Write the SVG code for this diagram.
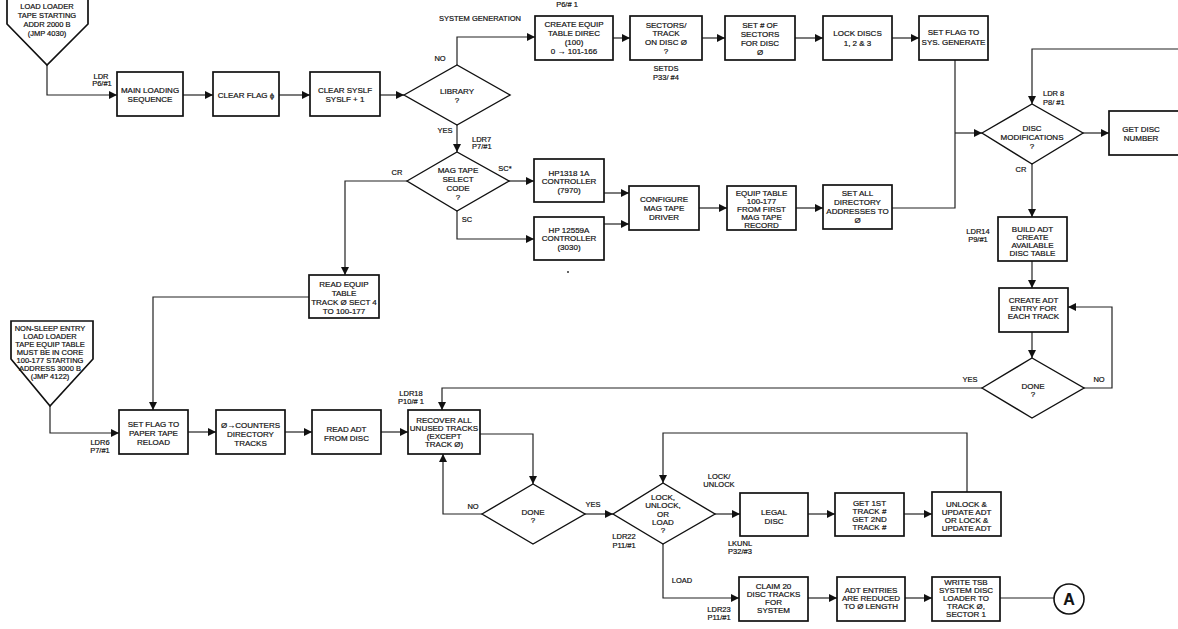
<svg xmlns="http://www.w3.org/2000/svg" width="1178" height="629" viewBox="0 0 1178 629">
<defs>
<marker id="ah" markerUnits="userSpaceOnUse" markerWidth="9" markerHeight="8" refX="8" refY="4" orient="auto">
<path d="M0,0 L8,4 L0,8 z" fill="#111"/>
</marker>
<style>
.bx{fill:#fff;stroke:#111;stroke-width:1.7}
.dm{fill:#fff;stroke:#111;stroke-width:1.4}
.c{fill:none;stroke:#222;stroke-width:1.2}
.a{fill:none;stroke:#222;stroke-width:1.2;marker-end:url(#ah)}
text{font-family:"Liberation Sans",Arial,sans-serif;font-size:8px;fill:#111;stroke:#111;stroke-width:0.2;text-anchor:middle}
.l{font-size:7.5px}
.s{text-anchor:start}
.p{font-size:7.5px}
</style>
</defs>
<rect width="1178" height="629" fill="#fff"/>

<g id="connectors">
<path class="a" d="M47,65 V95 H117"/>
<path class="a" d="M183,95 H213"/>
<path class="a" d="M279,95 H310"/>
<path class="a" d="M380,95 H404"/>
<path class="a" d="M457,65 V37 H535"/>
<path class="a" d="M613,38 H630"/>
<path class="a" d="M702,38 H725"/>
<path class="a" d="M795,38 H823"/>
<path class="a" d="M892,38 H919"/>
<path class="c" d="M955,60 V208 H892"/>
<path class="a" d="M955,133 H982"/>
<path class="a" d="M1180,49 H1032 V104"/>
<path class="a" d="M1083,133 H1109"/>
<path class="a" d="M1032,164 V217"/>
<path class="a" d="M1032,261 V288"/>
<path class="a" d="M1032,332 V358"/>
<path class="a" d="M1084,388 H1112 V307 H1068"/>
<path class="a" d="M982,388 H442 V410"/>
<path class="a" d="M457,125 V152"/>
<path class="a" d="M407,181 H345 V275"/>
<path class="a" d="M509,181 H534"/>
<path class="a" d="M457,211 V239 H534"/>
<path class="a" d="M604,193 H629"/>
<path class="a" d="M604,224 H629"/>
<path class="a" d="M699,208 H727"/>
<path class="a" d="M796,208 H823"/>
<path class="a" d="M309,297 H153 V410"/>
<path class="a" d="M50,406 V433 H119"/>
<path class="a" d="M188,432 H216"/>
<path class="a" d="M285,432 H312"/>
<path class="a" d="M381,432 H408"/>
<path class="a" d="M480,434 H533 V484"/>
<path class="a" d="M482,514 H443 V454"/>
<path class="a" d="M585,514 H613"/>
<path class="a" d="M715,514 H740"/>
<path class="a" d="M808,514 H835"/>
<path class="a" d="M904,514 H932"/>
<path class="a" d="M967,492 V433 H663 V483"/>
<path class="a" d="M663,544 V598 H739"/>
<path class="a" d="M808,598 H837"/>
<path class="a" d="M905,598 H932"/>
<path class="c" d="M1000,598 H1054"/>
</g>

<g id="labels">
<text class="l" x="101" y="79">LDR</text>
<text class="l" x="102" y="86">P6/#1</text>
<text class="l" x="480" y="21">SYSTEM GENERATION</text>
<text class="l" x="567" y="7">P6/# 1</text>
<text class="l" x="440" y="61">NO</text>
<text class="l" x="666" y="71">SETDS</text>
<text class="l" x="666" y="80">P33/ #4</text>
<text class="l s" x="1043" y="96">LDR 8</text>
<text class="l s" x="1043" y="105">P8/ #1</text>
<text class="l" x="1021" y="172">CR</text>
<text class="l" x="445" y="133">YES</text>
<text class="l s" x="472" y="142">LDR7</text>
<text class="l s" x="472" y="149">P7/#1</text>
<text class="l" x="397" y="175">CR</text>
<text class="l" x="505" y="171">SC*</text>
<text class="l" x="467" y="222">SC</text>
<text class="l" x="978" y="234">LDR14</text>
<text class="l" x="978" y="242">P9/#1</text>
<text class="l" x="970" y="382">YES</text>
<text class="l" x="1099" y="382">NO</text>
<text class="l" x="411" y="396">LDR18</text>
<text class="l" x="411" y="404">P10/# 1</text>
<text class="l" x="473" y="509">NO</text>
<text class="l" x="593" y="507">YES</text>
<text class="l" x="719" y="479">LOCK/</text>
<text class="l" x="719" y="487">UNLOCK</text>
<text class="l" x="740" y="546">LKUNL</text>
<text class="l" x="740" y="554">P32/#3</text>
<text class="l" x="624" y="539">LDR22</text>
<text class="l" x="624" y="548">P11/#1</text>
<text class="l" x="682" y="583">LOAD</text>
<text class="l" x="719" y="612">LDR23</text>
<text class="l" x="719" y="620">P11/#1</text>
<text class="l" x="100" y="445">LDR6</text>
<text class="l" x="100" y="453">P7/#1</text>
<circle cx="568" cy="272" r="1" fill="#333"/>
</g>

<g id="entry1">
<polygon class="bx" points="7,-5 88,-5 88,24 47,65 7,24"/>
<text class="p" x="47" y="9">LOAD LOADER</text>
<text class="p" x="47" y="18">TAPE STARTING</text>
<text class="p" x="47" y="27">ADDR 2000 B</text>
<text class="p" x="47" y="36">(JMP 4030)</text>
</g>
<g id="main-loading">
<rect class="bx" x="117" y="72" width="66" height="44"/>
<text x="150" y="93">MAIN LOADING</text>
<text x="150" y="102">SEQUENCE</text>
</g>
<g id="clear-flag">
<rect class="bx" x="213" y="72" width="66" height="44"/>
<text x="246" y="98">CLEAR FLAG ϕ</text>
</g>
<g id="clear-syslf">
<rect class="bx" x="310" y="72" width="70" height="44"/>
<text x="345" y="93">CLEAR SYSLF</text>
<text x="345" y="102">SYSLF + 1</text>
</g>
<g id="library">
<polygon class="dm" points="404,95 457,65 510,95 457,125"/>
<text x="457" y="94">LIBRARY</text>
<text x="457" y="103">?</text>
</g>
<g id="create-equip">
<rect class="bx" x="535" y="16" width="78" height="44"/>
<text x="574" y="27">CREATE EQUIP</text>
<text x="574" y="36">TABLE DIREC</text>
<text x="574" y="45">(100)</text>
<text x="574" y="54">0 → 101-166</text>
</g>
<g id="sectors-track">
<rect class="bx" x="630" y="16" width="72" height="44"/>
<text x="666" y="28">SECTORS/</text>
<text x="666" y="36">TRACK</text>
<text x="666" y="45">ON DISC Ø</text>
<text x="666" y="54">?</text>
</g>
<g id="set-sectors">
<rect class="bx" x="725" y="16" width="70" height="44"/>
<text x="760" y="28">SET # OF</text>
<text x="760" y="37">SECTORS</text>
<text x="760" y="46">FOR DISC</text>
<text x="760" y="55">Ø</text>
</g>
<g id="lock-discs">
<rect class="bx" x="823" y="16" width="69" height="44"/>
<text x="857.5" y="36">LOCK DISCS</text>
<text x="857.5" y="46">1, 2 &amp; 3</text>
</g>
<g id="set-flag-sys">
<rect class="bx" x="919" y="16" width="69" height="44"/>
<text x="953.5" y="35">SET FLAG TO</text>
<text x="953.5" y="45">SYS. GENERATE</text>
</g>
<g id="disc-mod">
<polygon class="dm" points="982,133 1032,104 1083,133 1032,164"/>
<text x="1032" y="131">DISC</text>
<text x="1032" y="140">MODIFICATIONS</text>
<text x="1032" y="149">?</text>
</g>
<g id="get-disc">
<rect class="bx" x="1109" y="111" width="80" height="44"/>
<text x="1141" y="132">GET DISC</text>
<text x="1141" y="141">NUMBER</text>
</g>
<g id="build-adt">
<rect class="bx" x="998" y="217" width="69" height="44"/>
<text x="1032.5" y="232">BUILD ADT</text>
<text x="1032.5" y="240">CREATE</text>
<text x="1032.5" y="248">AVAILABLE</text>
<text x="1032.5" y="256">DISC TABLE</text>
</g>
<g id="create-adt">
<rect class="bx" x="999" y="288" width="69" height="44"/>
<text x="1033.5" y="303">CREATE ADT</text>
<text x="1033.5" y="311">ENTRY FOR</text>
<text x="1033.5" y="319">EACH TRACK</text>
</g>
<g id="done1">
<polygon class="dm" points="982,388 1032,358 1084,388 1032,418"/>
<text x="1033" y="389">DONE</text>
<text x="1033" y="397">?</text>
</g>
<g id="mag-tape">
<polygon class="dm" points="407,181 457,152 509,181 457,211"/>
<text x="458" y="173">MAG TAPE</text>
<text x="458" y="182">SELECT</text>
<text x="458" y="191">CODE</text>
<text x="458" y="200">?</text>
</g>
<g id="hp13181a">
<rect class="bx" x="534" y="159" width="70" height="43"/>
<text x="569" y="176">HP1318 1A</text>
<text x="569" y="184">CONTROLLER</text>
<text x="569" y="193">(7970)</text>
</g>
<g id="hp12559a">
<rect class="bx" x="534" y="217" width="70" height="43"/>
<text x="569" y="233">HP 12559A</text>
<text x="569" y="241">CONTROLLER</text>
<text x="569" y="250">(3030)</text>
</g>
<g id="configure">
<rect class="bx" x="629" y="186" width="70" height="44"/>
<text x="664" y="202">CONFIGURE</text>
<text x="664" y="211">MAG TAPE</text>
<text x="664" y="220">DRIVER</text>
</g>
<g id="equip-table">
<rect class="bx" x="727" y="186" width="69" height="44"/>
<text x="761.5" y="196">EQUIP TABLE</text>
<text x="761.5" y="204">100-177</text>
<text x="761.5" y="212">FROM FIRST</text>
<text x="761.5" y="220">MAG TAPE</text>
<text x="761.5" y="228">RECORD</text>
</g>
<g id="set-all-dir">
<rect class="bx" x="823" y="185" width="69" height="44"/>
<text x="857.5" y="196">SET ALL</text>
<text x="857.5" y="205">DIRECTORY</text>
<text x="857.5" y="214">ADDRESSES TO</text>
<text x="857.5" y="223">Ø</text>
</g>
<g id="read-equip">
<rect class="bx" x="309" y="275" width="70" height="43"/>
<text x="344" y="287">READ EQUIP</text>
<text x="344" y="296">TABLE</text>
<text x="344" y="305">TRACK Ø SECT 4</text>
<text x="344" y="314">TO 100-177</text>
</g>
<g id="entry2">
<polygon class="bx" points="11,321 93,321 93,359 50,406 11,359"/>
<text class="p" x="50" y="331">NON-SLEEP ENTRY</text>
<text class="p" x="50" y="339">LOAD LOADER</text>
<text class="p" x="50" y="347">TAPE EQUIP TABLE</text>
<text class="p" x="50" y="355">MUST BE IN CORE</text>
<text class="p" x="50" y="363">100-177 STARTING</text>
<text class="p" x="50" y="371">ADDRESS 3000 B</text>
<text class="p" x="50" y="379">(JMP 4122)</text>
</g>
<g id="set-flag-paper">
<rect class="bx" x="119" y="410" width="69" height="44"/>
<text x="153.5" y="427">SET FLAG TO</text>
<text x="153.5" y="436">PAPER TAPE</text>
<text x="153.5" y="445">RELOAD</text>
</g>
<g id="counters">
<rect class="bx" x="216" y="410" width="69" height="44"/>
<text x="250.5" y="428">Ø→COUNTERS</text>
<text x="250.5" y="437">DIRECTORY</text>
<text x="250.5" y="446">TRACKS</text>
</g>
<g id="read-adt">
<rect class="bx" x="312" y="410" width="69" height="44"/>
<text x="346.5" y="432">READ ADT</text>
<text x="346.5" y="441">FROM DISC</text>
</g>
<g id="recover">
<rect class="bx" x="408" y="410" width="72" height="44"/>
<text x="444" y="423">RECOVER ALL</text>
<text x="444" y="431">UNUSED TRACKS</text>
<text x="444" y="439">(EXCEPT</text>
<text x="444" y="447">TRACK Ø)</text>
</g>
<g id="done2">
<polygon class="dm" points="482,514 533,484 585,514 533,544"/>
<text x="533" y="515">DONE</text>
<text x="533" y="523">?</text>
</g>
<g id="lock-unlock">
<polygon class="dm" points="613,514 663,483 715,514 663,544"/>
<text x="663" y="500">LOCK,</text>
<text x="663" y="508">UNLOCK,</text>
<text x="663" y="517">OR</text>
<text x="663" y="525">LOAD</text>
<text x="663" y="533">?</text>
</g>
<g id="legal-disc">
<rect class="bx" x="740" y="493" width="68" height="43"/>
<text x="774" y="515">LEGAL</text>
<text x="774" y="524">DISC</text>
</g>
<g id="get-track">
<rect class="bx" x="835" y="493" width="69" height="43"/>
<text x="869.5" y="506">GET 1ST</text>
<text x="869.5" y="514">TRACK #</text>
<text x="869.5" y="522">GET 2ND</text>
<text x="869.5" y="530">TRACK #</text>
</g>
<g id="unlock-update">
<rect class="bx" x="932" y="492" width="69" height="44"/>
<text x="966.5" y="507">UNLOCK &amp;</text>
<text x="966.5" y="515">UPDATE ADT</text>
<text x="966.5" y="523">OR LOCK &amp;</text>
<text x="966.5" y="531">UPDATE ADT</text>
</g>
<g id="claim">
<rect class="bx" x="739" y="577" width="69" height="44"/>
<text x="773.5" y="589">CLAIM 20</text>
<text x="773.5" y="597">DISC TRACKS</text>
<text x="773.5" y="605">FOR</text>
<text x="773.5" y="613">SYSTEM</text>
</g>
<g id="adt-entries">
<rect class="bx" x="837" y="577" width="68" height="44"/>
<text x="871" y="593">ADT ENTRIES</text>
<text x="871" y="601">ARE REDUCED</text>
<text x="871" y="609">TO Ø LENGTH</text>
</g>
<g id="write-tsb">
<rect class="bx" x="932" y="577" width="68" height="44"/>
<text x="966" y="585">WRITE TSB</text>
<text x="966" y="593">SYSTEM DISC</text>
<text x="966" y="601">LOADER TO</text>
<text x="966" y="609">TRACK Ø,</text>
<text x="966" y="617">SECTOR 1</text>
</g>
<g id="connector-a">
<circle cx="1069" cy="599" r="15" fill="#fff" stroke="#111" stroke-width="1.6"/>
<text x="1069" y="605" style="font-size:16px;font-weight:bold">A</text>
</g>
</svg>
